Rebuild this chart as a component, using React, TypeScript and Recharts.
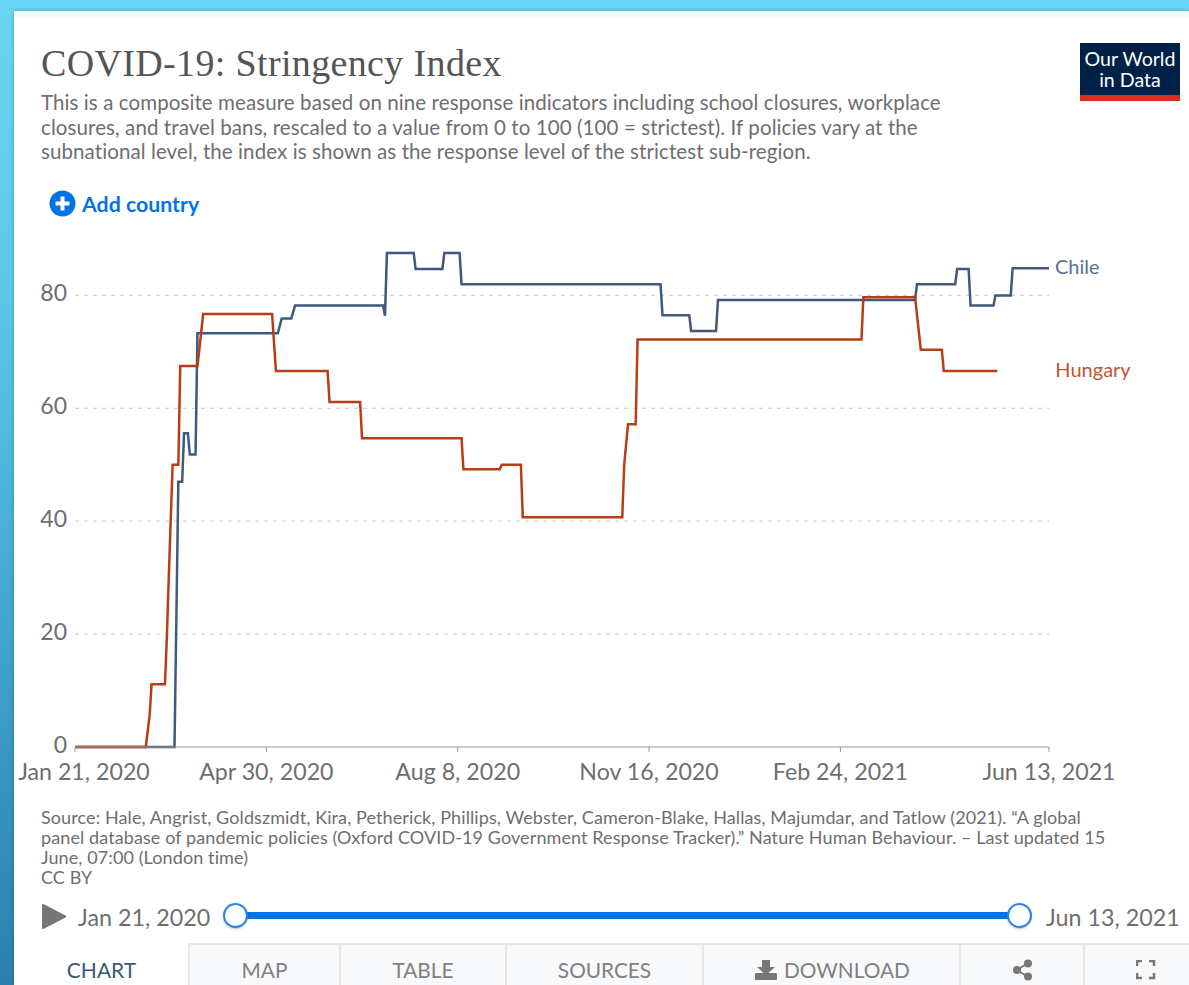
import React from "react";
import { LineChart, Line, XAxis, YAxis, CartesianGrid } from "recharts";

const tickDays = [0, 100, 200, 300, 400, 509];
const tickLabels = ["Jan 21, 2020", "Apr 30, 2020", "Aug 8, 2020", "Nov 16, 2020", "Feb 24, 2021", "Jun 13, 2021"];
const yTicks = [0, 20, 40, 60, 80];

const chileDays = [0, 52, 54, 56, 57, 59, 60, 63, 64, 106, 108, 113, 115, 161, 162, 163, 177, 178, 192, 193, 201, 202, 306, 307, 321, 322, 335, 336, 439, 440, 460, 461, 467, 468, 480, 481, 489, 490, 509];
const chileValues = [0, 0, 47, 47, 55.6, 55.6, 51.8, 51.8, 73.3, 73.3, 75.9, 75.9, 78.2, 78.2, 76.4, 87.5, 87.5, 84.7, 84.7, 87.5, 87.5, 82, 82, 76.5, 76.5, 73.7, 73.7, 79.2, 79.2, 82, 82, 84.7, 84.7, 78.2, 78.2, 80, 80, 84.8, 84.8];

const hungaryDays = [0, 37, 39, 40, 47, 48, 49, 51, 54, 55, 64, 67, 103, 105, 132, 133, 149, 150, 202, 203, 222, 223, 233, 234, 286, 287, 289, 293, 294, 411, 412, 439, 442, 453, 454, 482];
const hungaryValues = [0, 0, 5.6, 11.1, 11.1, 19.4, 30, 50, 50, 67.5, 67.5, 76.7, 76.7, 66.6, 66.6, 61.1, 61.1, 54.7, 54.7, 49.2, 49.2, 50, 50, 40.7, 40.7, 50, 57.2, 57.2, 72.2, 72.2, 79.7, 79.7, 70.4, 70.4, 66.6, 66.6];

const chileData = chileDays.map((day, i) => ({ day, value: chileValues[i] }));
const hungaryData = hungaryDays.map((day, i) => ({ day, value: hungaryValues[i] }));

const tabs = [
  { label: "MAP", left: 188, width: 151 },
  { label: "TABLE", left: 339, width: 166 },
  { label: "SOURCES", left: 505, width: 197 },
];

const sans = "Lato, 'Open Sans', sans-serif";
const GREY = "#6e6e6e";
const CHILE = "#3f5a7c";
const HUNGARY = "#b73e14";

const XTick = (props: any) => {
  const { x, y, payload, index } = props;
  const shift = index === 0 ? 9 : 0;
  return (
    <g>
      <line x1={x} x2={x} y1={y - 8} y2={y - 3} stroke="#999" strokeWidth={1} />
      <text x={x + shift} y={y + 25} textAnchor="middle" fontFamily={sans} fontSize={23.2} fill={GREY}>
        {tickLabels[tickDays.indexOf(payload.value)]}
      </text>
    </g>
  );
};

const YTick = (props: any) => {
  const { x, y, payload } = props;
  return (
    <text x={x} y={y + 6} textAnchor="end" fontFamily={sans} fontSize={23} fill={GREY}>
      {payload.value}
    </text>
  );
};

const endLabel = (name: string, color: string, count: number, dx: number, dy: number) => (props: any) => {
  if (props.index !== count - 1) return <g key={props.index} />;
  return (
    <text key={props.index} x={props.x + dx} y={props.y + dy} fontFamily={sans} fontSize={20} fill={color}>
      {name}
    </text>
  );
};

const box = (style: React.CSSProperties): React.CSSProperties => ({ position: "absolute", ...style });

export default function App() {
  return (
    <div
      style={box({
        left: 0,
        top: 0,
        width: 1189,
        height: 985,
        overflow: "hidden",
        fontFamily: sans,
        background: "linear-gradient(180deg, #66d6f2 0%, #5cc8e8 30%, #3d9fc9 70%, #2a80ae 100%)",
      })}
    >
      <div style={box({ left: 0, top: 0, width: 1189, height: 11, background: "#66d6f2" })} />
      <div style={box({ left: 14, top: 11, width: 1175, height: 974, background: "#fff", boxShadow: "0 0 4px rgba(0,0,0,0.25)" })} />
      <div style={box({ left: 15, top: 11, width: 1174, height: 7, background: "#f9f9f9" })} />

      <div style={box({ left: 41, top: 40, fontFamily: "'Liberation Serif', serif", fontSize: 38, lineHeight: "46px", color: "#555", whiteSpace: "nowrap", letterSpacing: 0.35 })}>
        COVID-19: Stringency Index
      </div>
      <div style={box({ left: 41, top: 90, fontSize: 20.5, letterSpacing: 0.09, lineHeight: "24.5px", color: "#6e6e6e", whiteSpace: "nowrap" })}>
        This is a composite measure based on nine response indicators including school closures, workplace
        <br />
        closures, and travel bans, rescaled to a value from 0 to 100 (100 = strictest). If policies vary at the
        <br />
        subnational level, the index is shown as the response level of the strictest sub-region.
      </div>

      <div style={box({ left: 1080, top: 43, width: 100, height: 58, background: "#002147" })}>
        <div style={box({ left: 0, top: 5, width: 100, textAlign: "center", color: "#fff", fontSize: 19.6, lineHeight: "21px" })}>
          Our World
          <br />
          in Data
        </div>
        <div style={box({ left: 0, top: 52, width: 100, height: 6, background: "#dc2e1f" })} />
      </div>

      <svg style={box({ left: 49, top: 190 })} width={27} height={27}>
        <circle cx={13.5} cy={13.5} r={13} fill="#0073e6" />
        <rect x={6.5} y={11.5} width={14} height={4} fill="#fff" />
        <rect x={11.5} y={6.5} width={4} height={14} fill="#fff" />
      </svg>
      <div style={box({ left: 82, top: 192, fontSize: 21.3, lineHeight: "24px", fontWeight: 700, color: "#0073e6", whiteSpace: "nowrap" })}>
        Add country
      </div>

      <div style={box({ left: 0, top: 0 })}>
        <LineChart width={1189} height={985} margin={{ top: 239, right: 140, bottom: 198, left: 0 }}>
          <CartesianGrid vertical={false} horizontalValues={[20, 40, 60, 80]} stroke="#d4d4d4" strokeWidth={1.2} strokeDasharray="4 5" />
          <XAxis
            type="number"
            dataKey="day"
            domain={[0, 509]}
            ticks={tickDays}
            interval={0}
            height={40}
            axisLine={{ stroke: "#999" }}
            tickLine={false}
            tick={<XTick />}
          />
          <YAxis
            type="number"
            domain={[0, 90]}
            ticks={yTicks}
            width={75}
            axisLine={false}
            tickLine={false}
            tick={<YTick />}
          />
          <Line
            data={chileData}
            dataKey="value"
            type="linear"
            stroke={CHILE}
            strokeWidth={2.5}
            dot={false}
            isAnimationActive={false}
            label={endLabel("Chile", "#5a7090", chileData.length, 6, 6)}
          />
          <Line
            data={hungaryData}
            dataKey="value"
            type="linear"
            stroke={HUNGARY}
            strokeWidth={2.5}
            dot={false}
            isAnimationActive={false}
            label={endLabel("Hungary", "#c0562e", hungaryData.length, 58, 6)}
          />
        </LineChart>
      </div>

      <div style={box({ left: 41, top: 807, fontSize: 18, letterSpacing: 0.1, lineHeight: "20px", color: "#6e6e6e", whiteSpace: "nowrap" })}>
        Source: Hale, Angrist, Goldszmidt, Kira, Petherick, Phillips, Webster, Cameron-Blake, Hallas, Majumdar, and Tatlow (2021). “A global
        <br />
        panel database of pandemic policies (Oxford COVID-19 Government Response Tracker).” Nature Human Behaviour. – Last updated 15
        <br />
        June, 07:00 (London time)
        <br />
        CC BY
      </div>

      <svg style={box({ left: 41, top: 903 })} width={26} height={27}>
        <path d="M2 2 L24 13.5 L2 25 Z" fill="#757575" stroke="#757575" strokeWidth={2} strokeLinejoin="round" />
      </svg>
      <div style={box({ left: 78, top: 903, fontSize: 23.3, lineHeight: "28px", color: GREY, whiteSpace: "nowrap" })}>Jan 21, 2020</div>
      <div style={box({ left: 1046, top: 903, fontSize: 23.3, lineHeight: "28px", color: GREY, whiteSpace: "nowrap" })}>Jun 13, 2021</div>
      <div style={box({ left: 235, top: 912, width: 784, height: 7, background: "#0073e6" })} />
      {[223, 1007].map((left) => (
        <div
          key={left}
          style={box({
            left,
            top: 903,
            width: 21,
            height: 21,
            borderRadius: "50%",
            background: "#fff",
            border: "2px solid #2a84e8",
            boxShadow: "0 1px 2px rgba(0,0,0,0.25)",
          })}
        />
      ))}

      <div style={box({ left: 188, top: 943, width: 1001, height: 42, background: "#f8f9fb", borderTop: "2px solid #e6e6e6", boxSizing: "border-box" })} />
      <div style={box({ left: 15, top: 943, width: 173, height: 42, textAlign: "center", fontSize: 21, lineHeight: "54px", color: "#3b5a7a" })}>CHART</div>
      {tabs.map((t) => (
        <div
          key={t.label}
          style={box({
            left: t.left,
            top: 943,
            width: t.width,
            height: 42,
            boxSizing: "border-box",
            borderLeft: "2px solid #e6e6e6",
            textAlign: "center",
            fontSize: 20.8,
            lineHeight: "54px",
            color: "#808080",
          })}
        >
          {t.label}
        </div>
      ))}
      <div style={box({ left: 702, top: 943, width: 259, height: 42, boxSizing: "border-box", borderLeft: "2px solid #e6e6e6", borderRight: "2px solid #e6e6e6" })} />
      <svg style={box({ left: 755, top: 959 })} width={22} height={22}>
        <path d="M7 1 H15 V8 H20 L11 16 L2 8 H7 Z" fill="#777" />
        <rect x={0} y={14} width={22} height={7} rx={1} fill="#777" />
      </svg>
      <div style={box({ left: 784, top: 943, height: 42, fontSize: 20.8, lineHeight: "54px", color: "#808080" })}>DOWNLOAD</div>
      <div style={box({ left: 1083, top: 943, width: 2, height: 42, background: "#e6e6e6" })} />
      <svg style={box({ left: 1012, top: 959 })} width={22} height={22}>
        <line x1={16} y1={4} x2={5} y2={11} stroke="#777" strokeWidth={2} />
        <line x1={16} y1={18} x2={5} y2={11} stroke="#777" strokeWidth={2} />
        <circle cx={16} cy={4.5} r={4} fill="#777" />
        <circle cx={5} cy={11} r={4} fill="#777" />
        <circle cx={16} cy={17.5} r={4} fill="#777" />
      </svg>
      <svg style={box({ left: 1136, top: 960 })} width={20} height={20}>
        <path d="M1 6 V1 H6 M13 1 H18 V6 M18 13 V18 H13 M6 18 H1 V13" fill="none" stroke="#777" strokeWidth={2.5} />
      </svg>
    </div>
  );
}
